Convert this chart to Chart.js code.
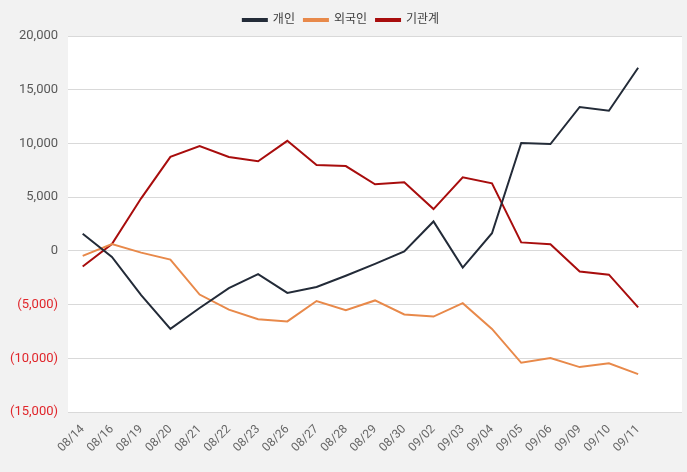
<!DOCTYPE html>
<html>
<head>
<meta charset="utf-8">
<script src="https://cdn.jsdelivr.net/npm/chart.js@4"></script>
<style>
  html, body { margin: 0; padding: 0; background: #f2f2f2; }
  #wrap { width: 687px; height: 472px; }
</style>
</head>
<body>
<div id="wrap"><canvas id="chart" width="687" height="472"></canvas></div>
<script>
// Dates (last slot is left empty, as in the original layout)
const categories = ['08/14', '08/16', '08/19', '08/20', '08/21', '08/22', '08/23', '08/26', '08/27', '08/28',
    '08/29', '08/30', '09/02', '09/03', '09/04', '09/05', '09/06', '09/09', '09/10', '09/11', ''];

// Net buying by investor type
const individual = [1600, -550, -4100, -7250, -5300, -3450, -2150, -3900, -3350, -2300,
    -1200, -50, 2750, -1550, 1650, 10050, 9950, 13400, 13050, 17050];
const foreign = [-450, 650, -150, -800, -4050, -5450, -6350, -6550, -4650, -5500,
    -4600, -5900, -6100, -4850, -7250, -10400, -9950, -10800, -10450, -11450];
const institution = [-1450, 650, 4900, 8750, 9750, 8750, 8350, 10250, 8000, 7900,
    6200, 6400, 3900, 6850, 6300, 800, 620, -1900, -2200, -5250];

const seriesNames = ['개인', '외국인', '기관계'];
const seriesColors = ['#232b38', '#e8894a', '#a80d0d'];

const yTicks = { min: -15000, max: 20000, step: 5000 };

const fontFamily = "Roboto, 'Noto Sans CJK KR', sans-serif";

// Paint white plot area on the grey page
const plotBackground = {
    id: 'plotBackground',
    beforeDraw(chart) {
        const { ctx, chartArea } = chart;
        ctx.save();
        ctx.fillStyle = '#ffffff';
        ctx.fillRect(chartArea.left, chartArea.top, chartArea.right - chartArea.left, chartArea.bottom - chartArea.top);
        ctx.restore();
    }
};

function formatTick(v) {
    const s = Math.abs(v).toLocaleString('en-US');
    return v < 0 ? '(' + s + ')' : s;
}

const seriesValues = [individual, foreign, institution];

const ctx = document.getElementById('chart').getContext('2d');
new Chart(ctx, {
    type: 'line',
    data: {
        labels: categories,
        datasets: seriesNames.map((name, i) => ({
            label: name,
            data: seriesValues[i],
            borderColor: seriesColors[i],
            backgroundColor: seriesColors[i],
            borderWidth: 2,
            pointRadius: 0,
            tension: 0
        }))
    },
    options: {
        responsive: false,
        animation: false,
        layout: { padding: { top: 5, right: 5, left: 0, bottom: 15 } },
        plugins: {
            legend: {
                position: 'top',
                labels: {
                    boxWidth: 24,
                    boxHeight: 2,
                    padding: 9,
                    color: '#404040',
                    font: { family: fontFamily, size: 12 }
                }
            },
            tooltip: { enabled: false }
        },
        scales: {
            x: {
                offset: true,
                grid: { display: false },
                border: { display: false },
                ticks: {
                    color: '#666666',
                    font: { family: fontFamily, size: 12 },
                    minRotation: 45,
                    maxRotation: 45,
                    autoSkip: false,
                    padding: 2
                }
            },
            y: {
                min: yTicks.min,
                max: yTicks.max,
                grid: { color: '#d9d9d9', drawTicks: false },
                border: { display: false },
                ticks: {
                    stepSize: yTicks.step,
                    padding: 10,
                    color: c => c.tick.value < 0 ? '#e0262b' : '#595959',
                    font: { family: fontFamily, size: 13 },
                    callback: v => formatTick(v)
                }
            }
        }
    },
    plugins: [plotBackground]
});
</script>
</body>
</html>
